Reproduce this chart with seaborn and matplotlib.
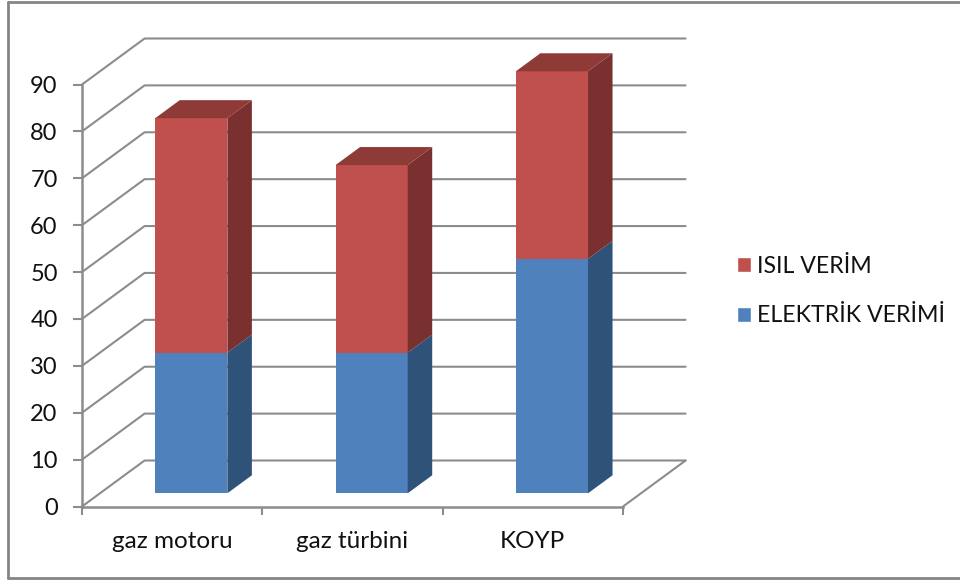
import matplotlib
matplotlib.use("Agg")
import matplotlib.pyplot as plt
import seaborn as sns
from matplotlib.lines import Line2D
from matplotlib.patches import Patch, Polygon
from matplotlib.transforms import Affine2D

# chart values
categories = ["gaz motoru", "gaz türbini", "KOYP"]
elektrik_verimi = [30, 30, 50]
isil_verim = [50, 40, 40]
y_ticks = list(range(0, 100, 10))

# colours
BLUE, BLUE_SIDE = "#4F81BD", "#2F5278"
RED, RED_SIDE, RED_TOP = "#C0504D", "#7A302E", "#8E3A37"
GRID = "#8C8C8C"

sns.set_theme(style="white")
plt.rcParams["font.family"] = ["Lato", "DejaVu Sans"]
plt.rcParams["text.color"] = "#111111"

fig = plt.figure(figsize=(9.6, 5.81), dpi=100)
ax = fig.add_axes([82 / 960, 74.5 / 581, 541 / 960, 422 / 581])

# fake 3D depth, in data units
WALL_X, WALL_Y = 0.347, 9.81
SHIFT_X, SHIFT_Y = 0.106, 2.82
SIDE_X, SIDE_Y = 0.136, 3.84

sns.barplot(x=categories, y=elektrik_verimi, color=BLUE, saturation=1, width=0.4, linewidth=0, ax=ax, zorder=3)
n_low = len(ax.patches)
sns.barplot(x=categories, y=isil_verim, bottom=elektrik_verimi, color=RED, saturation=1, width=0.4, linewidth=0,
            ax=ax, zorder=3)

ax.set_xlim(-0.5, 2.5)
ax.set_ylim(0, 90)

# back wall and floor
for v in y_ticks:
    ax.plot([-0.5, -0.5 + WALL_X, 2.5 + WALL_X], [v, v + WALL_Y, v + WALL_Y],
            color=GRID, lw=1.5, clip_on=False, zorder=1)
ax.plot([2.5, 2.5 + WALL_X], [0, WALL_Y], color=GRID, lw=1.5, clip_on=False, zorder=1)

# push the bars back from the front edge and add side/top faces
shift = Affine2D().translate(SHIFT_X, SHIFT_Y) + ax.transData
for i, bar in enumerate(ax.patches):
    bar.set_transform(shift)
    bar.set_clip_on(False)
    left, right = bar.get_x(), bar.get_x() + bar.get_width()
    low, high = bar.get_y(), bar.get_y() + bar.get_height()
    side = BLUE_SIDE if i < n_low else RED_SIDE
    ax.add_patch(Polygon([(right, low), (right, high), (right + SIDE_X, high + SIDE_Y), (right + SIDE_X, low + SIDE_Y)],
                         facecolor=side, edgecolor="none", transform=shift, clip_on=False, zorder=3))
    if i >= n_low:
        ax.add_patch(Polygon([(left, high), (right, high), (right + SIDE_X, high + SIDE_Y), (left + SIDE_X, high + SIDE_Y)],
                             facecolor=RED_TOP, edgecolor="none", transform=shift, clip_on=False, zorder=3))

# axes
sns.despine(ax=ax, top=True, right=True)
for name in ["left", "bottom"]:
    ax.spines[name].set_color(GRID)
    ax.spines[name].set_linewidth(1.8)
ax.set_yticks(y_ticks)
ax.set_xticks(range(len(categories)))
ax.set_xticklabels(categories)
ax.set_xticks([-0.5, 0.5, 1.5, 2.5], minor=True)
ax.tick_params(axis="y", length=6.5, width=1.5, color=GRID, pad=11, labelsize=17, labelcolor="#111111", left=True)
ax.tick_params(axis="x", which="major", length=0, pad=18, labelsize=17.5, labelcolor="#111111")
ax.tick_params(axis="x", which="minor", length=6, width=1.5, color=GRID, bottom=True)

# legend
handles = [Patch(facecolor=RED, label="ISIL VERİM"), Patch(facecolor=BLUE, label="ELEKTRİK VERİMİ")]
fig.legend(handles=handles, loc="center left", bbox_to_anchor=(737 / 960, 1 - 291 / 581), frameon=False,
           fontsize=16.7, handlelength=0.6, handleheight=0.6, handletextpad=0.25, labelspacing=1.25,
           borderpad=0, borderaxespad=0)

# outer frame, open on the right like the source image
for xs, ys in [([7.5, 7.5], [1.5, 578]), ([7.5, 960], [1.5, 1.5]), ([7.5, 960], [578, 578])]:
    fig.add_artist(Line2D([x / 960 for x in xs], [1 - y / 581 for y in ys], color="#858585", lw=2))

fig.savefig("out.png", dpi=100)
